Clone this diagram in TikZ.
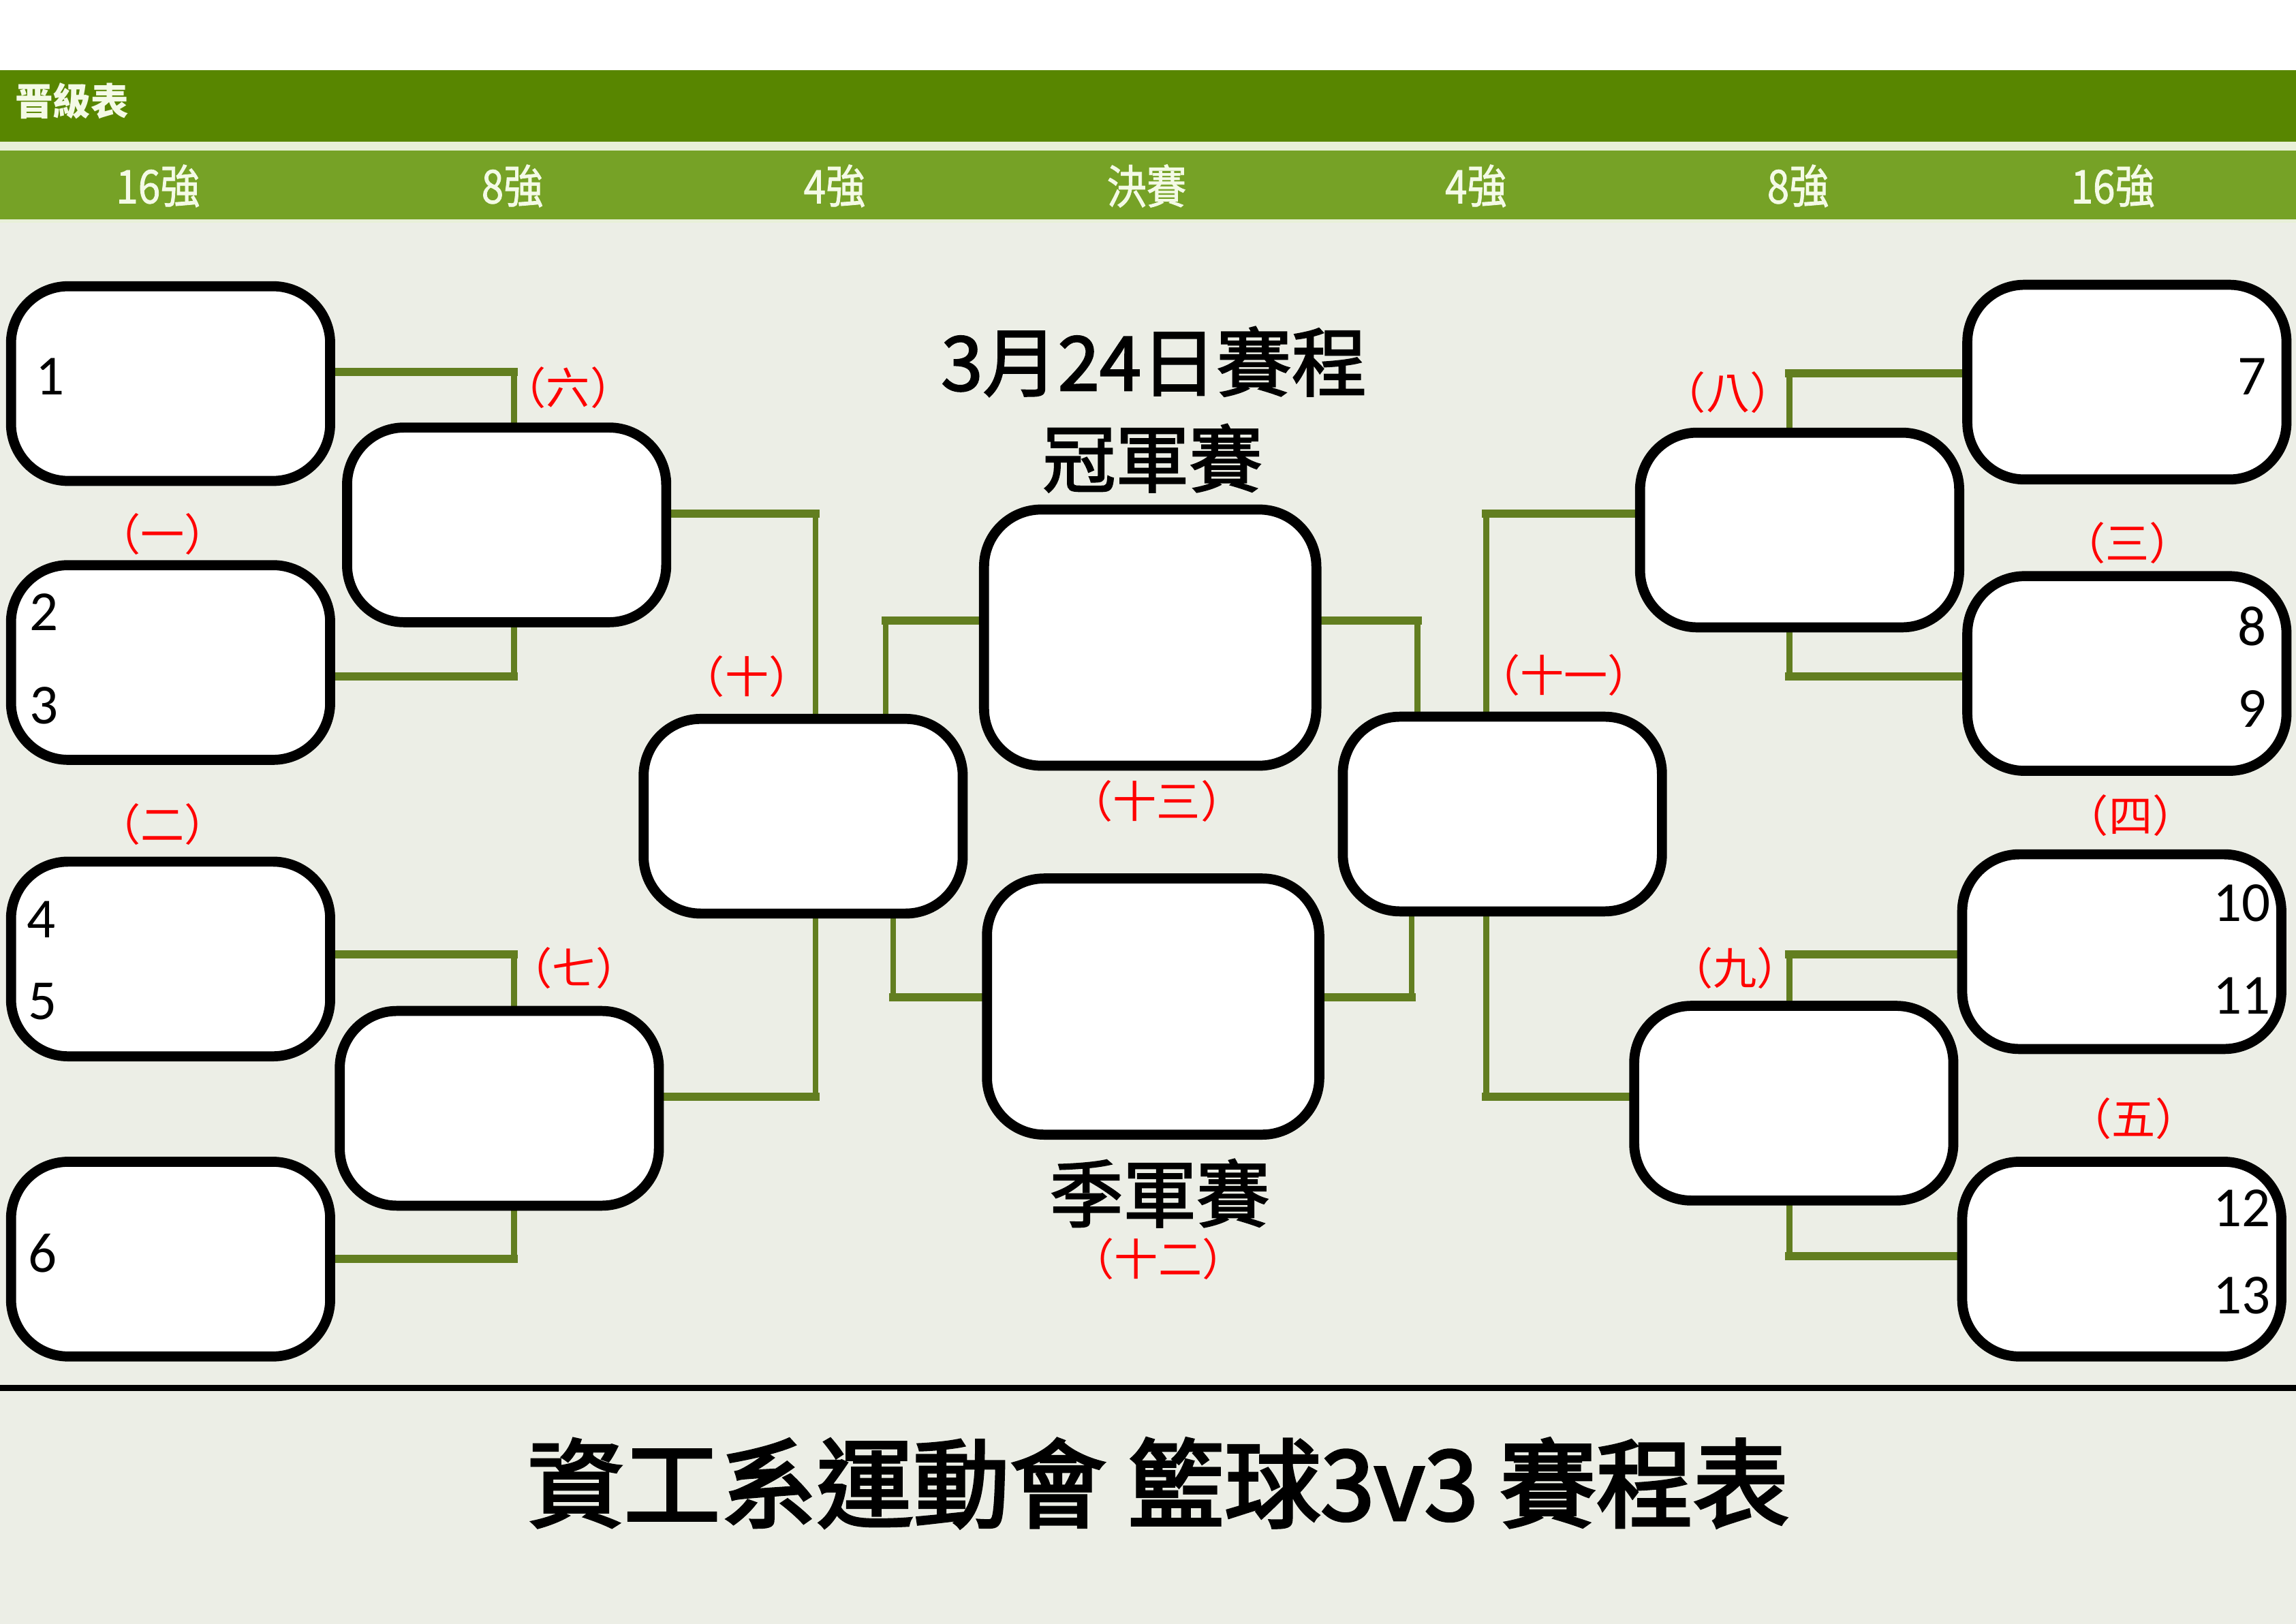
\documentclass[tikz,border=0pt]{standalone}
\usepackage{fontspec}
\newfontfamily\cjk{Noto Sans CJK TC}
\newfontfamily\cjkfb{Noto Sans CJK TC}[FakeBold=2.2]
\newfontfamily\cjktb{Noto Sans CJK TC}[FakeBold=3]
\newfontfamily\colfont{Noto Sans CJK TC}[FakeStretch=0.86,FakeBold=1.2]
\newfontfamily\numfont{Carlito}
\definecolor{hdark}{RGB}{88,134,0}
\definecolor{hlight}{RGB}{118,162,38}
\definecolor{hsep}{RGB}{232,240,216}
\definecolor{bgc}{RGB}{236,238,230}
\definecolor{conn}{RGB}{98,126,32}
\definecolor{hdrtext}{RGB}{244,250,230}
\pgfdeclarelayer{back}
\pgfdeclarelayer{bg}
\pgfsetlayers{back,bg,main}
\tikzset{
  box/.style={draw=black, line width=3.9pt, fill=white, rounded corners=0.78cm,
    minimum width=4.36cm, minimum height=2.66cm, inner sep=0pt},
  bigbox/.style={box, minimum width=4.54cm, minimum height=3.5cm},
  hconn/.style={draw=conn, line width=3.2pt, line cap=rect},
  vconn/.style={draw=conn, line width=2.2pt, line cap=rect},
  num/.style={font=\numfont\fontsize{22}{24}\selectfont, inner sep=0pt},
  lbl/.style={font=\cjk\fontsize{17}{19}\selectfont, text=red, inner sep=0pt},
  heading/.style={font=\cjkfb\fontsize{28.5}{32}\selectfont, inner sep=0pt},
  colhead/.style={font=\colfont\fontsize{18}{20}\selectfont, text=hdrtext, inner sep=0pt},
}
\begin{document}
\begin{tikzpicture}[x=0.02cm,y=-0.02cm]
\useasboundingbox (0,0) rectangle (1568,1109);
% backgrounds
\begin{pgfonlayer}{back}
\fill[white] (0,0) rectangle (1568,48);
\fill[bgc] (0,48) rectangle (1568,1109);
\fill[hdark] (0,48) rectangle (1568,97);
\fill[hsep] (0,97) rectangle (1568,103);
\fill[hlight] (0,103) rectangle (1568,150);
\fill[hsep] (0,150) rectangle (1568,152);
\end{pgfonlayer}
\node[font=\cjk\bfseries\fontsize{14.7}{16}\selectfont, text=hdrtext, inner sep=0pt, anchor=west] (hdr) at (10,69) {晋級表};
\node[colhead] (c1) at (108,127) {16強};
\node[colhead] (c2) at (350,127) {8強};
\node[colhead] (c3) at (570,127) {4強};
\node[colhead] (c4) at (783,127) {決賽};
\node[colhead] (c5) at (1008,127) {4強};
\node[colhead] (c6) at (1228,127) {8強};
\node[colhead] (c7) at (1443,127) {16強};
% boxes
\node[box] (A1) at (116.5,262) {};
\node[box] (A2) at (116.5,452.5) {};
\node[box] (A3) at (116.5,655) {};
\node[box] (A4) at (116.5,860) {};
\node[box] (B1) at (346,358.5) {};
\node[box] (B2) at (341,757) {};
\node[box] (C1) at (548.5,557.5) {};
\node[bigbox] (D1) at (785.5,435.5) {};
\node[bigbox] (D2) at (787.5,687.5) {};
\node[box] (E1) at (1026,556) {};
\node[box] (F1) at (1229,362) {};
\node[box] (F2) at (1225,753.5) {};
\node[box] (G1) at (1452.5,261) {};
\node[box] (G2) at (1452.5,460) {};
\node[box] (G3) at (1449,650) {};
\node[box] (G4) at (1449,860) {};
% connectors
\begin{pgfonlayer}{bg}
\coordinate (j1) at (351,254);
\coordinate (j2) at (351,462);
\coordinate (j3) at (557,351);
\coordinate (j4) at (351,652);
\coordinate (j5) at (351,860);
\coordinate (j6) at (557,749);
\coordinate (j7) at (605,424);
\coordinate (j8) at (610,681);
\coordinate (k1) at (968,424);
\coordinate (k2) at (964,681);
\coordinate (k3) at (1015,351);
\coordinate (k4) at (1015,749);
\coordinate (k5) at (1222,255);
\coordinate (k6) at (1222,462);
\coordinate (k7) at (1222,652);
\coordinate (k8) at (1222,858);
\draw[hconn] (A1.east |- j1) -- (j1); \draw[vconn] (j1) -- (j1 |- B1.north);
\draw[hconn] (A2.east |- j2) -- (j2); \draw[vconn] (j2) -- (j2 |- B1.south);
\draw[hconn] (B1.east |- j3) -- (j3); \draw[vconn] (j3) -- (j3 |- C1.north);
\draw[hconn] (A3.east |- j4) -- (j4); \draw[vconn] (j4) -- (j4 |- B2.north);
\draw[hconn] (A4.east |- j5) -- (j5); \draw[vconn] (j5) -- (j5 |- B2.south);
\draw[hconn] (B2.east |- j6) -- (j6); \draw[vconn] (j6) -- (j6 |- C1.south);
\draw[hconn] (D1.west |- j7) -- (j7); \draw[vconn] (j7) -- (j7 |- C1.north);
\draw[hconn] (D2.west |- j8) -- (j8); \draw[vconn] (j8) -- (j8 |- C1.south);
\draw[hconn] (D1.east |- k1) -- (k1); \draw[vconn] (k1) -- (k1 |- E1.north);
\draw[hconn] (D2.east |- k2) -- (k2); \draw[vconn] (k2) -- (k2 |- E1.south);
\draw[hconn] (F1.west |- k3) -- (k3); \draw[vconn] (k3) -- (k3 |- E1.north);
\draw[hconn] (F2.west |- k4) -- (k4); \draw[vconn] (k4) -- (k4 |- E1.south);
\draw[hconn] (G1.west |- k5) -- (k5); \draw[vconn] (k5) -- (k5 |- F1.north);
\draw[hconn] (G2.west |- k6) -- (k6); \draw[vconn] (k6) -- (k6 |- F1.south);
\draw[hconn] (G3.west |- k7) -- (k7); \draw[vconn] (k7) -- (k7 |- F2.north);
\draw[hconn] (G4.west |- k8) -- (k8); \draw[vconn] (k8) -- (k8 |- F2.south);
\end{pgfonlayer}
% numbers
\node[num, anchor=west] (n1) at (24,257) {1};
\node[num, anchor=west] (n2) at (20,418) {2};
\node[num, anchor=west] (n3) at (20,482) {3};
\node[num, anchor=west] (n4) at (18,628) {4};
\node[num, anchor=west] (n5) at (19,684) {5};
\node[num, anchor=west] (n6) at (19,856) {6};
\node[num, anchor=east] (n7) at (1548,257) {7};
\node[num, anchor=east] (n8) at (1548,428) {8};
\node[num, anchor=east] (n9) at (1548,484) {9};
\node[num, anchor=east] (n10) at (1551,617) {10};
\node[num, anchor=east] (n11) at (1551,680) {11};
\node[num, anchor=east] (n12) at (1551,825) {12};
\node[num, anchor=east] (n13) at (1551,885) {13};
% match labels
\node[lbl] (l1) at (111,365) {（一）};
\node[lbl] (l2) at (111,563) {（二）};
\node[lbl] (l3) at (1453,371) {（三）};
\node[lbl] (l4) at (1455,557) {（四）};
\node[lbl] (l5) at (1457,764) {（五）};
\node[lbl] (l6) at (388,265) {（六）};
\node[lbl] (l7) at (392,661) {（七）};
\node[lbl] (l8) at (1180,268) {（八）};
\node[lbl] (l9) at (1185,661) {（九）};
\node[lbl] (l10) at (510,462) {（十）};
\node[lbl] (l11) at (1068,461) {（十一）};
\node[lbl] (l12) at (791,860) {（十二）};
\node[lbl] (l13) at (790,547) {（十三）};
% headings
\node[heading, font=\cjkfb\fontsize{29.2}{32}\selectfont] (date) at (788,247) {3月24日賽程};
\node[heading] (champ) at (787,313) {冠軍賽};
\node[heading] (third) at (792,815) {季軍賽};
% bottom
\draw[black, line width=2.3pt] (0,948) -- (1568,948);
\node[font=\cjktb\fontsize{37.5}{40}\selectfont, inner sep=0pt] (title) at (791,1013) {資工系運動會 籃球3v3 賽程表};
\end{tikzpicture}
\end{document}
